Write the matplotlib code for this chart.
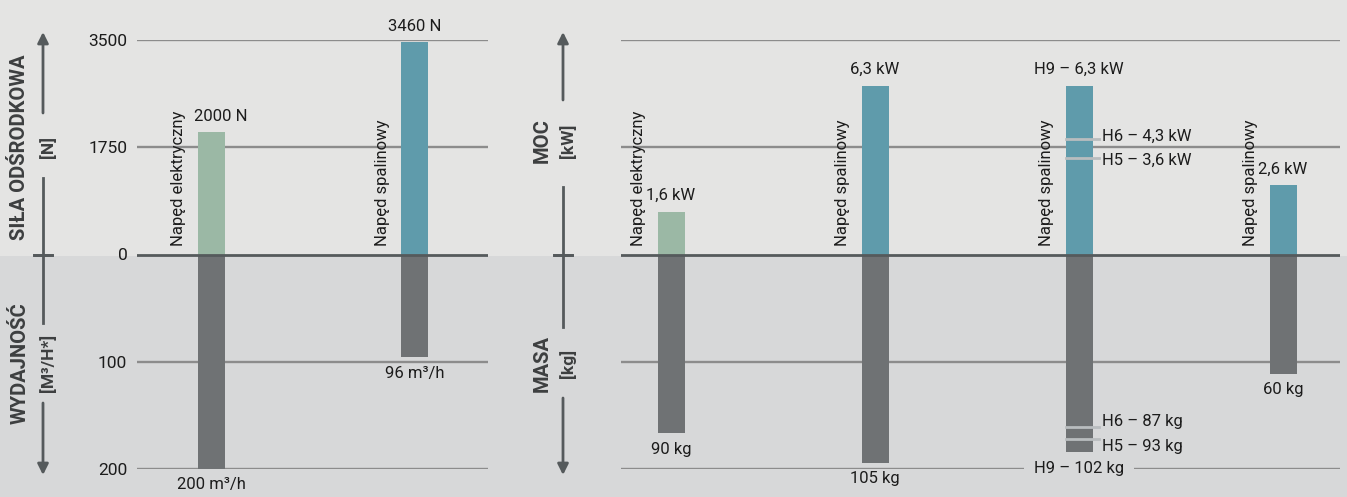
import matplotlib
matplotlib.use("Agg")
import matplotlib.pyplot as plt
from matplotlib.lines import Line2D
from matplotlib.patches import FancyArrowPatch, Rectangle

# ── Dane ──────────────────────────────────────────────────────────────────────
left_drive   = ["Napęd elektryczny", "Napęd spalinowy"]
left_force   = [2000, 3460]            # N
left_flow    = [200, 96]               # m³/h
left_force_lbl = ["2000 N", "3460 N"]
left_flow_lbl  = ["200 m³/h", "96 m³/h"]
left_ticks     = ["200", "100", "0", "1750", "3500"]

right_drive  = ["Napęd elektryczny", "Napęd spalinowy", "Napęd spalinowy", "Napęd spalinowy"]
right_power  = [1.6, 6.3, 6.3, 2.6]    # kW
right_mass   = [90, 105, 102, 60]      # kg
right_power_lbl = ["1,6 kW", "6,3 kW", "H9 – 6,3 kW", "2,6 kW"]
right_mass_lbl  = ["90 kg", "105 kg", "H9 – 102 kg", "60 kg"]
# warianty H6 / H5 dla trzeciego słupka
var_power = [4.3, 3.6]
var_mass  = [87, 93]
var_power_lbl = ["H6 – 4,3 kW", "H5 – 3,6 kW"]
var_mass_lbl  = ["H6 – 87 kg", "H5 – 93 kg"]

LEFT_MAX_UP, LEFT_MAX_DN = 3500, 200
RIGHT_MAX_UP, RIGHT_MAX_DN = 8, 108

# ── Style ─────────────────────────────────────────────────────────────────────
W, H = 1347, 497
BG_UP, BG_DN = "#e4e4e3", "#d7d8d9"
GREEN, BLUE, DARK = "#9bb8a5", "#5f9bab", "#6f7274"
GRID, ZERO, VARLINE = "#8c8c8c", "#555a5c", "#b9bdbf"
TXT, TITLE = "#1c1c1c", "#3d3f40"
plt.rcParams["font.family"] = ["Roboto", "DejaVu Sans"]

fig = plt.figure(figsize=(W / 100, H / 100), dpi=100)
fig.patch.set_facecolor(BG_UP)
fig.add_artist(Rectangle((0, 0), 1, (H - 256) / H, transform=fig.transFigure,
                         facecolor=BG_DN, edgecolor="none", zorder=-10))

def fx(x): return x / W
def fy(y): return (H - y) / H

BAR_W = 27 / 204
y0, yh = fy(469), (469 - 40) / H
axL = fig.add_axes([fx(137), y0, (488 - 137) / W, yh])
axR = fig.add_axes([fx(621), y0, (1340 - 621) / W, yh])

def setup(ax, xlim):
    ax.set_xlim(*xlim)
    ax.set_ylim(-1, 1)
    ax.patch.set_visible(False)
    for s in ax.spines.values():
        s.set_visible(False)
    ax.set_xticks([])
    for v in (1, 0.5, -0.5, -1):
        ax.axhline(v, color=GRID, lw=1.7, zorder=1)
    ax.axhline(0, color=ZERO, lw=2.0, zorder=4)

setup(axL, ((137 - 211) / 204, (488 - 211) / 204))
setup(axR, ((621 - 671) / 204, (1340 - 671) / 204))

axL.set_yticks([-1, -0.5, 0, 0.5, 1])
axL.set_yticklabels(left_ticks, fontsize=12.5, color=TXT)
axL.tick_params(axis="y", length=0, pad=7)
axR.set_yticks([])

def draw_panel(ax, drives, up, dn, up_lbl, dn_lbl, max_up, max_dn, shift_first=0):
    xs = list(range(len(drives)))
    cols = [GREEN if "elektr" in d else BLUE for d in drives]
    up_n = [v / max_up for v in up]
    dn_n = [-v / max_dn for v in dn]
    ax.bar(xs, up_n, width=BAR_W, color=cols, zorder=3)
    ax.bar(xs, dn_n, width=BAR_W, color=DARK, zorder=3)
    for x, d, u, n, ul, dl in zip(xs, drives, up_n, dn_n, up_lbl, dn_lbl):
        ax.text(x - 0.16, 0.04, d, rotation=90, ha="center", va="bottom",
                fontsize=12, color=TXT, zorder=5)
        dx = shift_first if x == 0 else 0
        ax.annotate(ul, (x, u), xytext=(dx, 6), textcoords="offset points",
                    ha="center", va="bottom", fontsize=12, color=TXT)
        if ul.startswith("H9"):
            ax.annotate(dl, (x, -1), ha="center", va="center", fontsize=12,
                        color=TXT, zorder=6,
                        bbox=dict(boxstyle="square,pad=0.6", fc=BG_DN, ec="none"))
        else:
            ax.annotate(dl, (x, n), xytext=(0, -6), textcoords="offset points",
                        ha="center", va="top", fontsize=12, color=TXT)

draw_panel(axL, left_drive, left_force, left_flow, left_force_lbl, left_flow_lbl,
           LEFT_MAX_UP, LEFT_MAX_DN, shift_first=7)
draw_panel(axR, right_drive, right_power, right_mass, right_power_lbl, right_mass_lbl,
           RIGHT_MAX_UP, RIGHT_MAX_DN)

# warianty H6/H5 na słupku H9
xb = 2
for vals, lbls, mx, offs in ((var_power, var_power_lbl, RIGHT_MAX_UP, (2, -2)),
                             (var_mass, var_mass_lbl, -RIGHT_MAX_DN, (4, -5))):
    for v, lbl, dy in zip(vals, lbls, offs):
        yv = v / mx
        axR.plot([xb - BAR_W / 2, xb + BAR_W / 2 + 0.03], [yv, yv],
                 color=VARLINE, lw=2, zorder=4)
        axR.annotate(lbl, (xb + BAR_W / 2 + 0.045, yv), xytext=(0, dy),
                     textcoords="offset points", ha="left", va="center",
                     fontsize=12, color=TXT)

# ── Opisy osi ze strzałkami ───────────────────────────────────────────────────
def axis_note(x_line, x_title, title, unit, yc, gap, tip, zero=255):
    g0, g1 = gap
    fig.text(fx(x_title), fy(yc), title, rotation=90, ha="center", va="center",
             fontsize=14.5, fontweight="bold", color=TITLE)
    fig.text(fx(x_line + 5), fy(yc), unit, rotation=90, ha="center", va="center",
             fontsize=12.5, fontweight="bold", color=TITLE)
    near, far = (g1, g0) if tip < zero else (g0, g1)
    fig.add_artist(Line2D([fx(x_line)] * 2, [fy(zero), fy(near)], color=ZERO, lw=2))
    fig.add_artist(Line2D([fx(x_line - 9), fx(x_line + 9)], [fy(zero)] * 2, color=ZERO, lw=2))
    fig.patches.append(FancyArrowPatch(
        (fx(x_line), fy(far)), (fx(x_line), fy(tip)), transform=fig.transFigure,
        arrowstyle="-|>", mutation_scale=16, color=ZERO, lw=2, shrinkA=0, shrinkB=0))

axis_note(43, 20, "SIŁA ODŚRODKOWA", "[N]", 147, (113, 178), 32)
axis_note(43, 20, "WYDAJNOŚĆ", "[M³/H*]", 363, (323, 403), 475)
axis_note(563, 542, "MOC", "[kW]", 141, (100, 187), 32)
axis_note(563, 542, "MASA", "[kg]", 363, (327, 398), 475)

fig.savefig("out.png", dpi=100, facecolor=fig.get_facecolor())
